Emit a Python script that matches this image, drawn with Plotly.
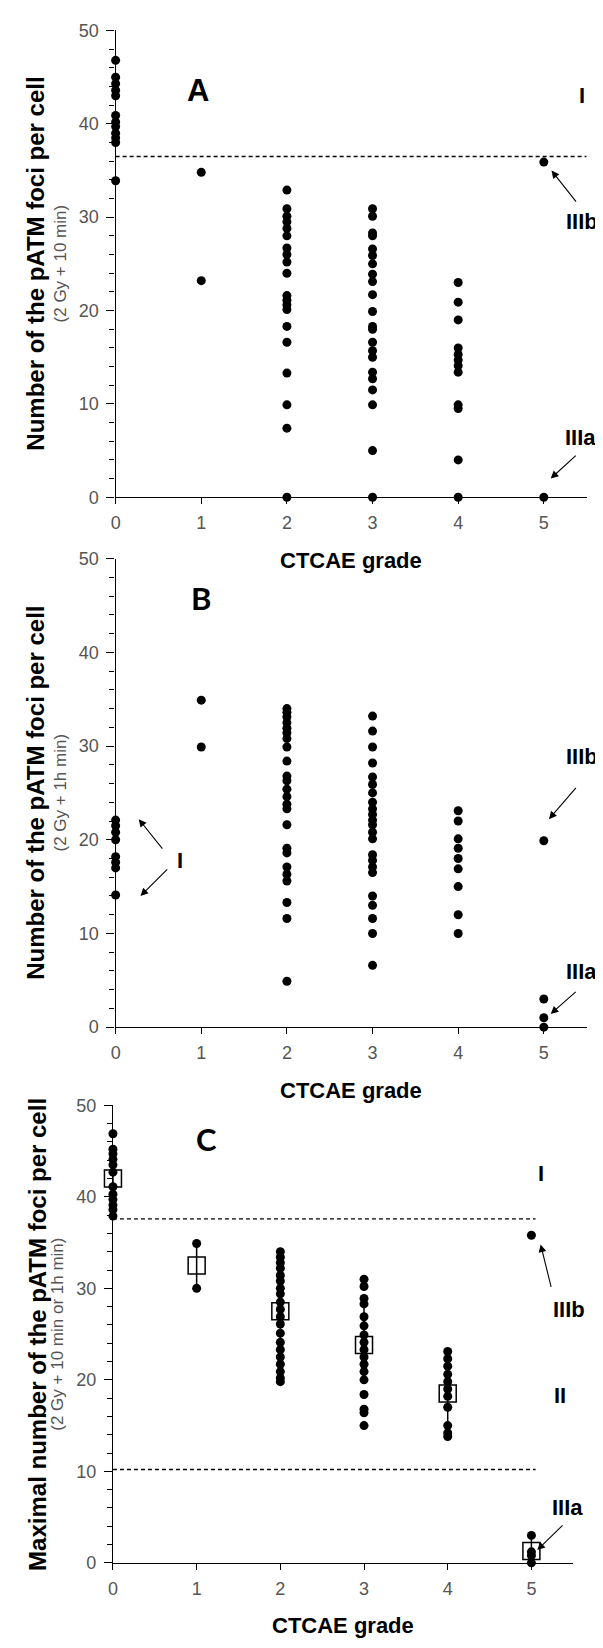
import plotly.graph_objects as go

# CTCAE grade on the x axis
grades = [0, 1, 2, 3, 4, 5]

# Panel A: pATM foci per cell, 2 Gy + 10 min (one list per grade)
foci_a = [
    [46.8, 45.0, 44.3, 43.6, 43.0, 40.9, 40.2, 39.7, 39.0, 38.5, 38.0, 33.9],
    [34.8, 23.2],
    [32.9, 30.9, 30.1, 29.5, 28.8, 28.0, 26.7, 26.0, 25.2, 24.0, 21.6, 21.1,
     20.6, 20.1, 18.3, 16.6, 13.3, 9.9, 7.4, 0],
    [30.9, 30.1, 28.3, 28.0, 26.6, 25.9, 25.0, 23.9, 23.1, 21.7, 19.9, 18.3,
     18.0, 16.6, 15.7, 15.0, 13.4, 12.7, 11.5, 9.9, 5.0, 0],
    [23.0, 20.9, 19.0, 16.0, 15.3, 14.7, 14.1, 13.4, 9.9, 9.5, 4.0, 0],
    [35.9, 0],
]

# Panel B: pATM foci per cell, 2 Gy + 1h
foci_b = [
    [22.1, 21.5, 20.8, 20.0, 18.2, 17.6, 17.0, 14.1],
    [34.9, 29.9],
    [34.0, 33.6, 33.1, 32.5, 31.9, 31.4, 30.8, 29.9, 28.4, 26.8, 26.3, 25.4,
     24.6, 23.8, 23.3, 21.6, 19.1, 18.6, 17.1, 16.3, 15.6, 13.3, 11.6, 4.9],
    [33.2, 31.6, 29.9, 28.2, 26.7, 25.9, 25.0, 24.0, 23.3, 22.7, 22.1, 21.6,
     20.8, 20.1, 18.4, 17.8, 17.1, 16.5, 14.0, 13.0, 11.6, 10.0, 6.6],
    [23.1, 22.0, 20.1, 19.1, 18.0, 16.9, 15.0, 12.0, 10.0],
    [19.9, 3.0, 1.0, 0],
]

# Panel C: maximal number of foci (10 min or 1h)
foci_c = [
    [46.9, 45.2, 44.7, 44.1, 43.5, 42.7, 41.1, 40.3, 39.7, 39.1, 38.6, 37.9],
    [34.9, 30.0],
    [34.0, 33.4, 32.8, 32.2, 31.4, 30.8, 30.0, 29.4, 28.5, 27.7, 26.9, 26.1,
     25.1, 24.1, 23.3, 22.5, 21.7, 20.9, 20.2, 19.8],
    [31.0, 30.2, 28.9, 28.3, 26.9, 25.9, 24.9, 24.1, 23.3, 22.5, 21.7, 20.9,
     20.0, 18.4, 16.8, 16.4, 15.0],
    [23.1, 22.3, 21.5, 20.6, 19.8, 19.0, 18.2, 17.0, 15.0, 14.2, 13.8],
    [35.8, 3.0, 1.2, 0.8, 0],
]
means_c = [42.0, 32.5, 27.5, 23.8, 18.5, 1.3]
errors_c = [2.8, 2.5, 4.3, 4.1, 3.2, 1.3]

# threshold lines
threshold_a = [36.5]
threshold_c = [37.6, 10.2]

y_titles = [
    "Number of the pATM foci per cell",
    "Number of the pATM foci per cell",
    "Maximal number of the pATM foci per cell",
]
y_subtitles = ["(2 Gy + 10 min)", "(2 Gy + 1h min)", "(2 Gy + 10 min or 1h min)"]
x_title = "CTCAE grade"
panel_letters = ["A", "B", "C"]

# the page body adds an 8px margin, so the figure is a bit smaller
OFF = 8
W, H = 603 - OFF, 1648 - OFF
TICK_FONT = dict(family="Liberation Sans, Arial, sans-serif", size=18, color="#555")
BOLD = "Liberation Sans, Arial, sans-serif"

fig = go.Figure()

# page-pixel boxes of the three plot areas (left, right, top, bottom)
boxes = [
    (111.5, 586.5, 20.6, 493.2),
    (111.5, 586.5, 555.4, 1029.6),
    (108.8, 573.0, 1108.8, 1571.9),
]


def px_x(p):
    return (p - OFF) / W


def px_y(p):
    return 1 - (p - OFF) / H


for i, foci in enumerate([foci_a, foci_b, foci_c]):
    n = "" if i == 0 else str(i + 1)
    xs, ys = [], []
    for g, vals in zip(grades, foci):
        xs += [g] * len(vals)
        ys += vals
    fig.add_trace(go.Scatter(
        x=xs, y=ys, mode="markers", xaxis="x" + n, yaxis="y" + n,
        marker=dict(color="black", size=9, symbol="circle"),
        cliponaxis=False, showlegend=False,
    ))

    l, r, t, b = boxes[i]
    fig.layout["xaxis" + n] = dict(
        domain=[px_x(l), px_x(r)], range=[0, 5.5], anchor="y" + n,
        tickmode="array", tickvals=grades, ticks="outside", ticklen=6,
        tickwidth=1.2, tickcolor="black", showline=True, linecolor="black",
        linewidth=1.3, showgrid=False, zeroline=False, tickfont=TICK_FONT,
        ticklabelstandoff=3,
    )
    fig.layout["yaxis" + n] = dict(
        domain=[px_y(b), px_y(t)], range=[0, 50], anchor="x" + n,
        tickmode="linear", tick0=0, dtick=10, ticks="outside", ticklen=8,
        tickwidth=1.2, tickcolor="black", showline=True, linecolor="black",
        linewidth=1.3, showgrid=False, zeroline=False, tickfont=TICK_FONT,
        ticklabelstandoff=4,
        minor=dict(dtick=2, tick0=0, ticks="outside", ticklen=5,
                   tickcolor="black", tickwidth=1, showgrid=False),
    )

    # axis titles
    fig.add_annotation(
        text="<b>" + y_titles[i] + "</b>", textangle=-90,
        xref="paper", x=px_x(31 if i < 2 else 32), xanchor="center",
        yref="y%s domain" % n, y=0.5, yanchor="middle", showarrow=False,
        font=dict(family=BOLD, size=24, color="black"),
    )
    fig.add_annotation(
        text=y_subtitles[i], textangle=-90,
        xref="paper", x=px_x(56 if i < 2 else 52), xanchor="center",
        yref="y%s domain" % n, y=0.5, yanchor="middle", showarrow=False,
        font=dict(family="Liberation Sans, Arial, sans-serif", size=17, color="#555"),
    )
    fig.add_annotation(
        text="<b>" + x_title + "</b>",
        xref="x%s domain" % n, x=0.5, xanchor="center",
        yref="y%s domain" % n, y=0, yanchor="middle", yshift=-63,
        showarrow=False, font=dict(family=BOLD, size=22, color="black"),
    )

# panel C means with error bars
fig.add_trace(go.Scatter(
    x=grades, y=means_c, mode="markers", xaxis="x3", yaxis="y3",
    marker=dict(symbol="square-open", size=17, color="black",
                line=dict(width=1.5, color="black")),
    error_y=dict(type="data", array=errors_c, width=0, thickness=1.5, color="black"),
    cliponaxis=False, showlegend=False,
))

# dashed threshold lines
for yv in threshold_a:
    fig.add_shape(type="line", xref="x", yref="y", x0=0, x1=5.5, y0=yv, y1=yv,
                  line=dict(color="black", width=1.3, dash="4px,3px"))
for yv in threshold_c:
    fig.add_shape(type="line", xref="x3", yref="y3", x0=0, x1=5.05, y0=yv, y1=yv,
                  line=dict(color="black", width=1.3, dash="4px,3px"))

# panel letters
letter_pos = [(0.96, 43.6), (1.0, 45.8), (1.12, 46.3)]
letter_fonts = [BOLD, "Lato, sans-serif", "Lato, sans-serif"]
for i, (lx, ly) in enumerate(letter_pos):
    n = "" if i == 0 else str(i + 1)
    fig.add_annotation(text="<b>" + panel_letters[i] + "</b>", x=lx, y=ly,
                       xref="x" + n, yref="y" + n, showarrow=False,
                       font=dict(family=letter_fonts[i], size=31, color="black"))

# group labels
labels = [
    ("", "I", 5.44, 43.0), ("", "IIIb", 5.44, 29.5), ("", "IIIa", 5.43, 6.4),
    ("2", "IIIb", 5.44, 28.9), ("2", "IIIa", 5.44, 5.95), ("2", "I", 0.75, 17.8),
    ("3", "I", 5.11, 42.6), ("3", "IIIb", 5.45, 27.7), ("3", "II", 5.34, 18.3),
    ("3", "IIIa", 5.43, 6.1),
]
for n, txt, lx, ly in labels:
    fig.add_annotation(text="<b>" + txt + "</b>", x=lx, y=ly, xref="x" + n,
                       yref="y" + n, showarrow=False,
                       font=dict(family=BOLD, size=22, color="black"))

# arrows: (panel, head x, head y, tail x, tail y)
arrows = [
    ("", 5.09, 35.0, 5.39, 31.5), ("", 5.08, 2.0, 5.39, 4.6),
    ("2", 5.06, 22.2, 5.39, 25.7), ("2", 5.08, 1.4, 5.39, 3.9),
    ("2", 0.27, 22.2, 0.56, 18.9), ("2", 0.29, 14.0, 0.62, 17.0),
    ("3", 5.11, 34.8, 5.24, 30.0), ("3", 5.07, 1.4, 5.39, 4.25),
]
for n, hx, hy, tx, ty in arrows:
    fig.add_annotation(text="", x=hx, y=hy, ax=tx, ay=ty, xref="x" + n,
                       yref="y" + n, axref="x" + n, ayref="y" + n,
                       showarrow=True, arrowhead=2, arrowsize=1.4,
                       arrowwidth=1.1, arrowcolor="black")

fig.update_layout(
    width=W, height=H, margin=dict(l=0, r=0, t=0, b=0),
    plot_bgcolor="white", paper_bgcolor="white", showlegend=False,
    font=dict(family="Liberation Sans, Arial, sans-serif", color="black"),
)

fig.write_html("out.html")
